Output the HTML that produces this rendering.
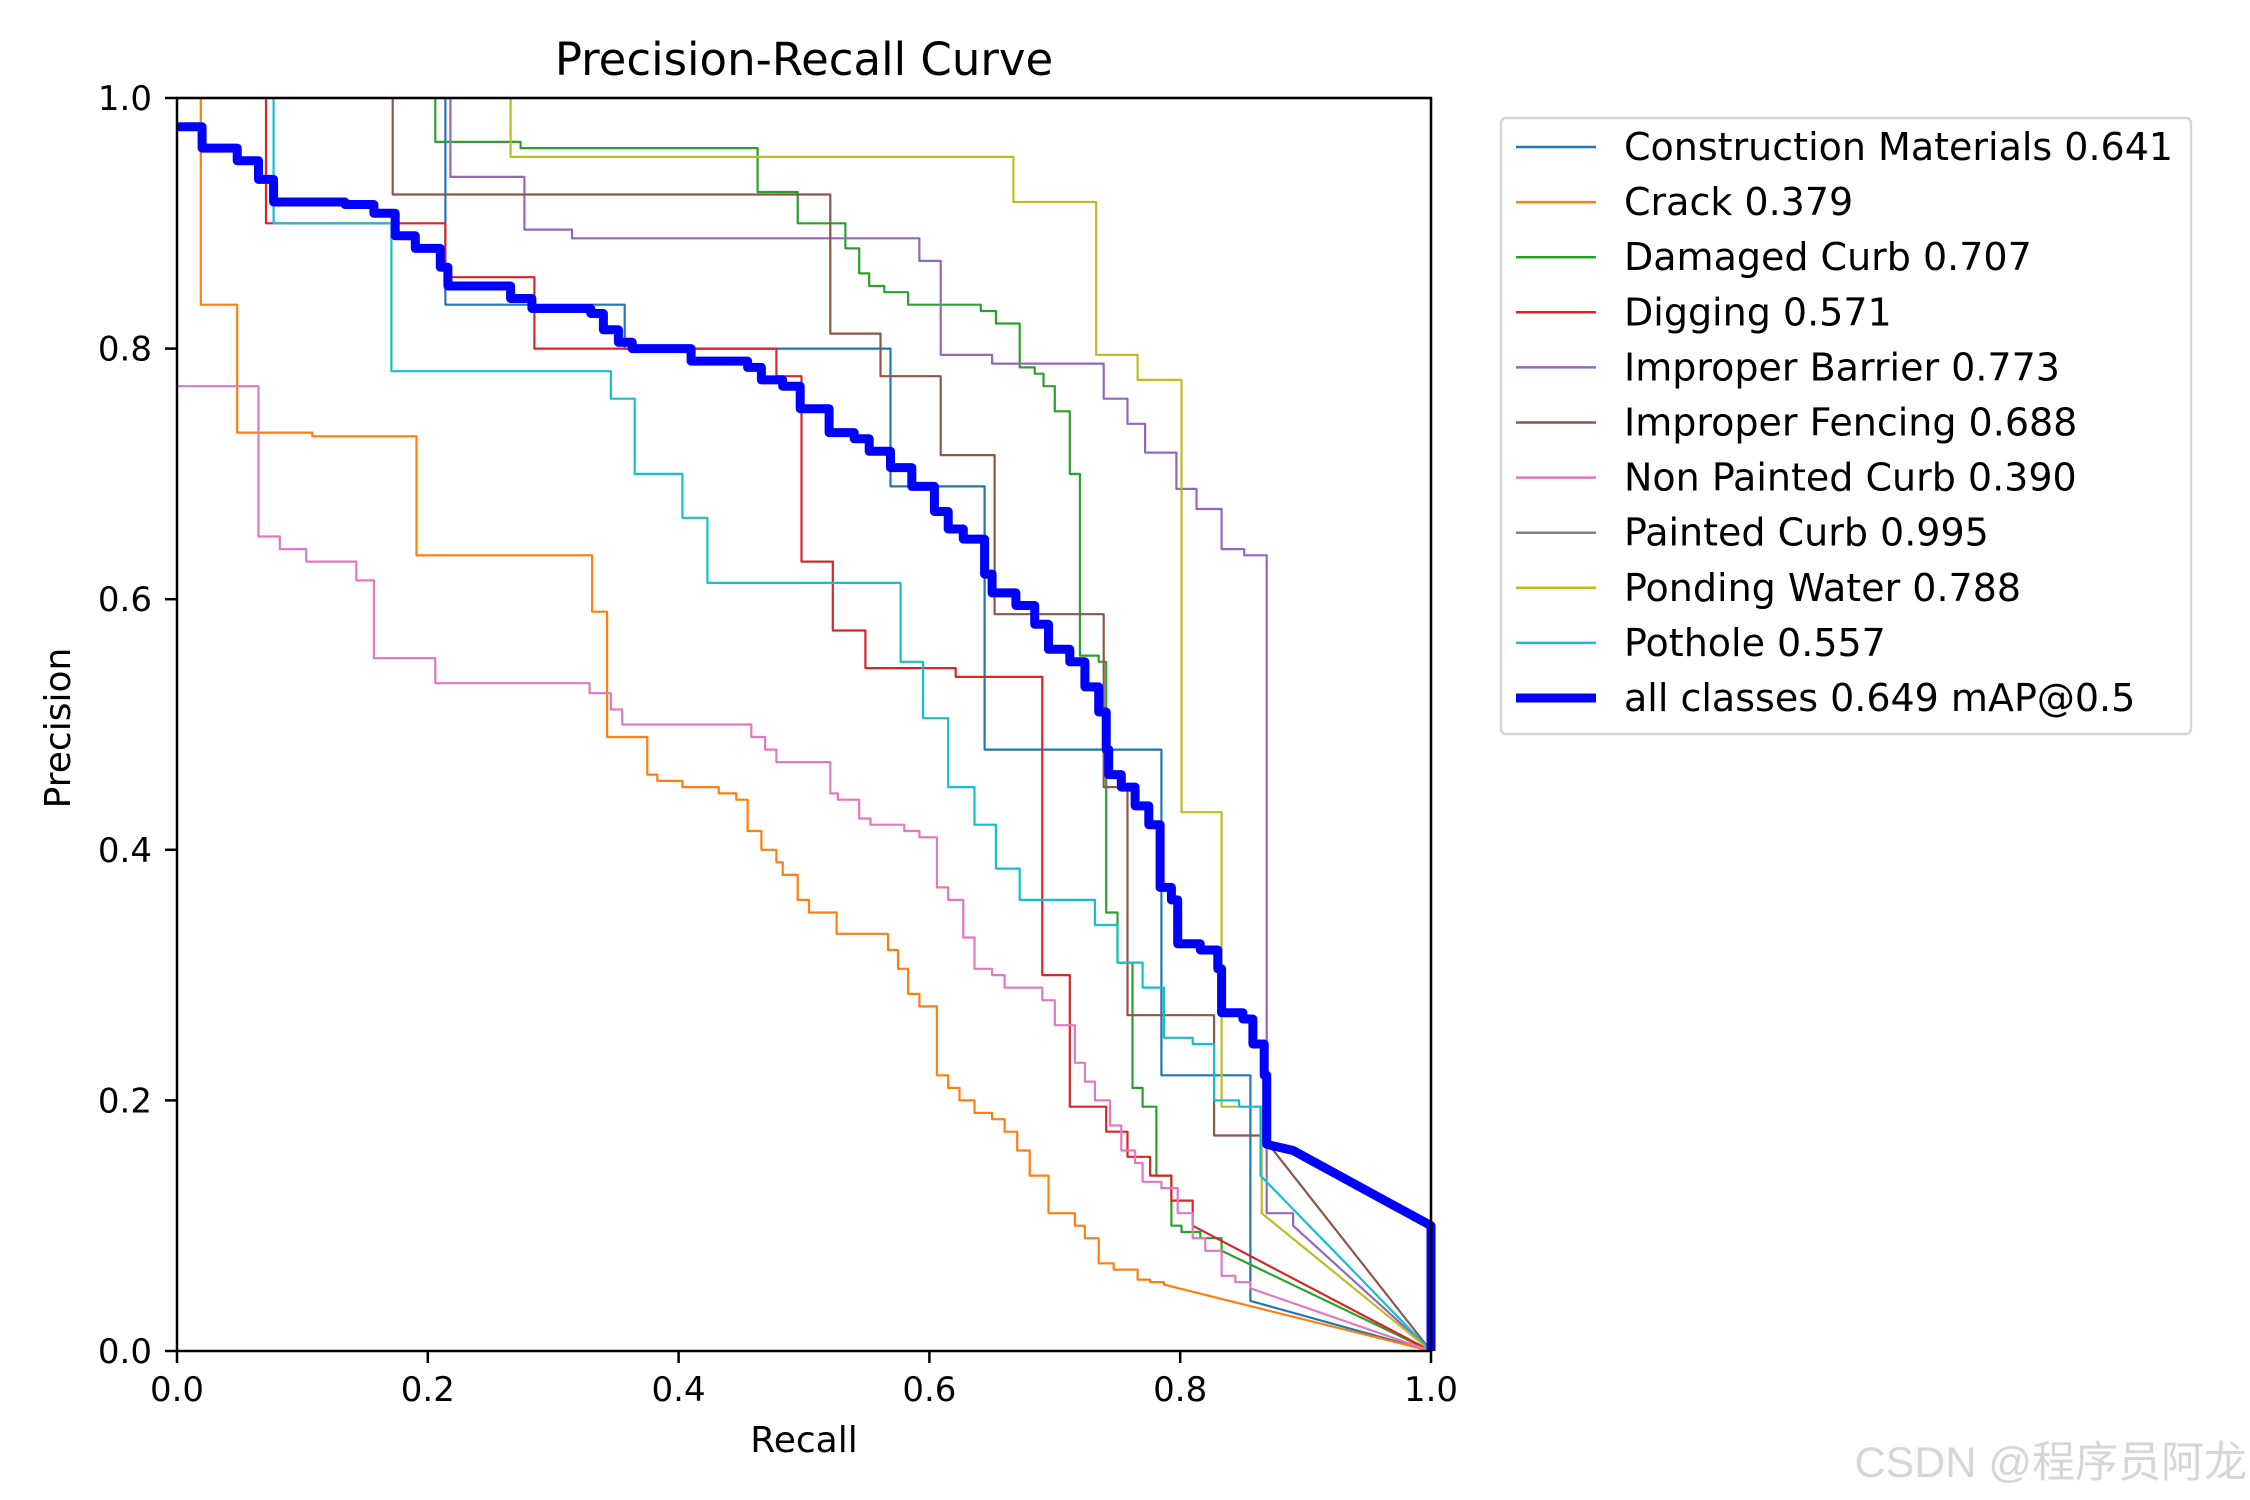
<!DOCTYPE html>
<html><head><meta charset="utf-8"><style>
body{margin:0;background:#fff}
svg{display:block;font-family:"DejaVu Sans","Liberation Sans",sans-serif}
</style></head><body>
<svg id="chart" width="2250" height="1500" viewBox="0 0 2250 1500">
<rect width="2250" height="1500" fill="#fff"/>
<text x="804" y="75" font-size="45" text-anchor="middle">Precision-Recall Curve</text>
<g id="plot"></g>
<g id="axes"></g>
<text x="804" y="1452" font-size="36" text-anchor="middle">Recall</text>
<text x="0" y="0" font-size="36" text-anchor="middle" transform="translate(70,728) rotate(-90)">Precision</text>
<g id="legend"></g>
<text x="2247" y="1477" font-size="43" text-anchor="end" fill="#d6d6d6" font-family="'Liberation Sans','Noto Sans CJK SC',sans-serif">CSDN @程序员阿龙</text>
</svg>
<script>
const xTicks=[0,0.2,0.4,0.6,0.8,1.0];
const yTicks=[0,0.2,0.4,0.6,0.8,1.0];
const seriesNames=["Construction Materials 0.641","Crack 0.379","Damaged Curb 0.707","Digging 0.571","Improper Barrier 0.773","Improper Fencing 0.688","Non Painted Curb 0.390","Painted Curb 0.995","Ponding Water 0.788","Pothole 0.557","all classes 0.649 mAP@0.5"];
const seriesColors=["#1f77b4","#ff7f0e","#2ca02c","#d62728","#9467bd","#8c564b","#e377c2","#7f7f7f","#bcbd22","#17becf","#0000ff"];
const cmR=[0.214,0.214,0.357,0.569,0.644,0.785,0.856];
const cmP=[1.0,0.835,0.80,0.69,0.48,0.22,0.04];
const crR=[0.019,0.019,0.048,0.108,0.191,0.331,0.343,0.375,0.383,0.403,0.432,0.446,0.455,0.466,0.478,0.483,0.495,0.504,0.526,0.567,0.575,0.583,0.592,0.606,0.615,0.624,0.636,0.65,0.66,0.67,0.68,0.695,0.716,0.724,0.735,0.747,0.766,0.776,0.787];
const crP=[1.0,0.835,0.733,0.73,0.635,0.59,0.49,0.46,0.455,0.45,0.445,0.44,0.415,0.40,0.39,0.38,0.36,0.35,0.333,0.32,0.305,0.285,0.275,0.22,0.21,0.20,0.19,0.185,0.175,0.16,0.14,0.11,0.10,0.09,0.07,0.065,0.057,0.055,0.053];
const dcR=[0.206,0.206,0.274,0.463,0.495,0.533,0.544,0.552,0.564,0.583,0.641,0.653,0.672,0.684,0.691,0.70,0.712,0.72,0.735,0.741,0.75,0.762,0.77,0.781,0.793,0.801,0.816,0.833];
const dcP=[1.0,0.965,0.96,0.925,0.90,0.88,0.86,0.85,0.845,0.835,0.83,0.82,0.785,0.78,0.77,0.75,0.70,0.555,0.55,0.35,0.31,0.21,0.195,0.14,0.10,0.095,0.09,0.08];
const dgR=[0.071,0.071,0.214,0.285,0.478,0.498,0.523,0.549,0.621,0.69,0.712,0.741,0.758,0.776,0.793,0.81];
const dgP=[1.0,0.90,0.857,0.80,0.778,0.63,0.575,0.545,0.538,0.30,0.195,0.175,0.155,0.14,0.12,0.10];
const ibR=[0.218,0.218,0.277,0.315,0.592,0.609,0.65,0.739,0.758,0.772,0.797,0.813,0.833,0.851,0.869,0.89];
const ibP=[1.0,0.937,0.895,0.888,0.87,0.795,0.788,0.76,0.74,0.717,0.688,0.672,0.64,0.635,0.11,0.10];
const ifR=[0.172,0.172,0.521,0.561,0.609,0.652,0.739,0.758,0.827,0.865];
const ifP=[1.0,0.923,0.812,0.778,0.715,0.588,0.45,0.268,0.172,0.172];
const npR=[0,0.065,0.082,0.103,0.143,0.157,0.206,0.329,0.346,0.355,0.363,0.458,0.469,0.478,0.521,0.527,0.544,0.553,0.58,0.592,0.606,0.615,0.627,0.636,0.65,0.66,0.69,0.70,0.716,0.724,0.732,0.744,0.753,0.764,0.77,0.785,0.798,0.81,0.82,0.833,0.844,0.856];
const npP=[0.77,0.65,0.64,0.63,0.615,0.553,0.533,0.525,0.512,0.50,0.50,0.49,0.48,0.47,0.445,0.44,0.425,0.42,0.415,0.41,0.37,0.36,0.33,0.305,0.30,0.29,0.28,0.26,0.23,0.215,0.20,0.18,0.16,0.15,0.135,0.13,0.11,0.09,0.08,0.06,0.055,0.05];
const pcR=[0,1.0];
const pcP=[1.0,1.0];
const pwR=[0.266,0.266,0.667,0.733,0.766,0.801,0.833,0.847,0.865];
const pwP=[1.0,0.953,0.917,0.795,0.775,0.43,0.195,0.195,0.11];
const phR=[0.077,0.077,0.171,0.346,0.365,0.403,0.423,0.577,0.595,0.615,0.636,0.653,0.672,0.732,0.75,0.77,0.787,0.81,0.827,0.847,0.864];
const phP=[1.0,0.90,0.782,0.76,0.70,0.665,0.613,0.55,0.505,0.45,0.42,0.385,0.36,0.34,0.31,0.29,0.25,0.245,0.20,0.195,0.14];
const allR=[0,0.02,0.048,0.065,0.077,0.134,0.157,0.174,0.19,0.21,0.216,0.266,0.283,0.33,0.34,0.352,0.363,0.41,0.455,0.466,0.483,0.497,0.52,0.54,0.552,0.569,0.586,0.604,0.615,0.627,0.644,0.65,0.669,0.684,0.695,0.712,0.724,0.735,0.741,0.743,0.753,0.764,0.775,0.784,0.793,0.798,0.816,0.83,0.833,0.85,0.858,0.867,0.869];
const allP=[0.977,0.96,0.95,0.935,0.917,0.915,0.908,0.89,0.88,0.865,0.85,0.84,0.832,0.828,0.815,0.805,0.80,0.79,0.785,0.775,0.77,0.752,0.733,0.728,0.718,0.705,0.69,0.67,0.656,0.648,0.62,0.605,0.595,0.58,0.56,0.55,0.53,0.51,0.48,0.46,0.45,0.435,0.42,0.37,0.36,0.325,0.32,0.305,0.27,0.265,0.245,0.22,0.165];
const allTailR=[0.89,1.0,1.0];
const allTailP=[0.16,0.10,0.0];
const stdTailR=[1.0];
const stdTailP=[0.0];

const L=177,R=1431,T=98,B=1351;
const xs=v=>L+v*(R-L), ys=v=>B-v*(B-T);
const NS="http://www.w3.org/2000/svg";
const plot=document.getElementById('plot'),axes=document.getElementById('axes'),legend=document.getElementById('legend');
function pathFor(r,p,tr,tp){
  let d="M"+xs(r[0]).toFixed(1)+" "+ys(p[0]).toFixed(1);
  for(let i=1;i<r.length;i++){d+=" H"+xs(r[i]).toFixed(1)+" V"+ys(p[i]).toFixed(1);}
  for(let i=0;i<tr.length;i++){d+=" L"+xs(tr[i]).toFixed(1)+" "+ys(tp[i]).toFixed(1);}
  return d;
}
const defs=document.createElementNS(NS,'defs');
defs.innerHTML='<clipPath id="clip"><rect x="'+L+'" y="'+(T-5)+'" width="'+(R-L+6)+'" height="'+(B-T+10)+'"/></clipPath>';
document.getElementById('chart').appendChild(defs);
plot.setAttribute('clip-path','url(#clip)');
const series=[[cmR,cmP],[crR,crP],[dcR,dcP],[dgR,dgP],[ibR,ibP],[ifR,ifP],[npR,npP],[pcR,pcP],[pwR,pwP],[phR,phP],[allR,allP]];
const keys=["construction-materials","crack","damaged-curb","digging","improper-barrier","improper-fencing","non-painted-curb","painted-curb","ponding-water","pothole","all-classes"];
series.forEach((s,i)=>{
  const isAll=i===10;
  const el=document.createElementNS(NS,'path');
  el.setAttribute('d',pathFor(s[0],s[1],isAll?allTailR:stdTailR,isAll?allTailP:stdTailP));
  el.setAttribute('fill','none');el.setAttribute('stroke',seriesColors[i]);
  el.setAttribute('stroke-width',isAll?9:2.2);el.setAttribute('stroke-linejoin','round');
  
  
  plot.appendChild(el);
});
const fr=document.createElementNS(NS,'rect');
fr.setAttribute('x',L);fr.setAttribute('y',T);fr.setAttribute('width',R-L);fr.setAttribute('height',B-T);
fr.setAttribute('fill','none');fr.setAttribute('stroke','#000');fr.setAttribute('stroke-width',2.5);


axes.appendChild(fr);
xTicks.forEach(v=>{
  const t=document.createElementNS(NS,'line');
  t.setAttribute('x1',xs(v));t.setAttribute('x2',xs(v));t.setAttribute('y1',B);t.setAttribute('y2',B+12);t.setAttribute('stroke','#000');t.setAttribute('stroke-width',2.5);
  
  
  axes.appendChild(t);
  const tx=document.createElementNS(NS,'text');
  tx.setAttribute('x',xs(v));tx.setAttribute('y',B+50);tx.setAttribute('font-size','34');tx.setAttribute('text-anchor','middle');
  tx.textContent=v.toFixed(1);
  
  
  axes.appendChild(tx);
});
yTicks.forEach(v=>{
  const t=document.createElementNS(NS,'line');
  t.setAttribute('x1',L-12);t.setAttribute('x2',L);t.setAttribute('y1',ys(v));t.setAttribute('y2',ys(v));t.setAttribute('stroke','#000');t.setAttribute('stroke-width',2.5);
  
  
  axes.appendChild(t);
  const tx=document.createElementNS(NS,'text');
  tx.setAttribute('x',L-25);tx.setAttribute('y',ys(v)+12);tx.setAttribute('font-size','34');tx.setAttribute('text-anchor','end');
  tx.textContent=v.toFixed(1);
  
  
  axes.appendChild(tx);
});
const box=document.createElementNS(NS,'rect');
box.setAttribute('x',1501);box.setAttribute('y',118);box.setAttribute('width',690);box.setAttribute('height',616);box.setAttribute('rx',5);
box.setAttribute('fill','#fff');box.setAttribute('stroke','#d5d5d5');box.setAttribute('stroke-width',2.5);


legend.appendChild(box);
seriesNames.forEach((n,i)=>{
  const y=147+i*55.1;
  const ln=document.createElementNS(NS,'line');
  ln.setAttribute('x1',1516);ln.setAttribute('x2',1596);ln.setAttribute('y1',y);ln.setAttribute('y2',y);
  ln.setAttribute('stroke',seriesColors[i]);ln.setAttribute('stroke-width',i===10?9:2.5);
  
  
  legend.appendChild(ln);
  const tx=document.createElementNS(NS,'text');
  tx.setAttribute('x',1624);tx.setAttribute('y',y+13);tx.setAttribute('font-size','38');
  tx.textContent=n;
  
  
  legend.appendChild(tx);
});
</script>
</body></html>
